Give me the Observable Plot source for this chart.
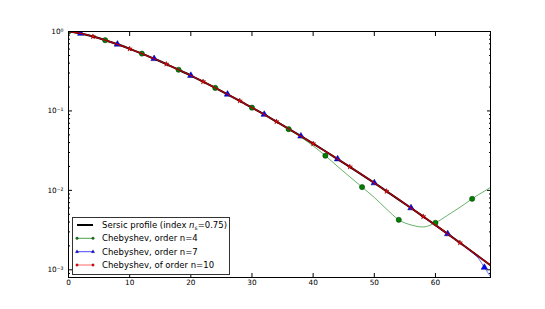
<!DOCTYPE html>
<html>
<head>
<meta charset="utf-8">
<script src="https://cdn.jsdelivr.net/npm/d3@7"></script>
<script src="https://cdn.jsdelivr.net/npm/@observablehq/plot@0.6"></script>
<style>
  html, body { margin: 0; padding: 0; background: white; }
  #chart { width: 545px; height: 309px; }
</style>
</head>
<body>
<div id="chart"></div>
<script>
// ---- data ----
const xs = [0,2,4,6,8,10,12,14,16,18,20,22,24,26,28,30,32,34,36,38,40,42,44,46,48,50,52,54,56,58,60,62,64,66,67,68,69];
const sersic = [1,0.944,0.864,0.777,0.690,0.605,0.527,0.454,0.389,0.330,0.279,0.234,0.195,0.162,0.134,0.110,0.0902,0.0734,0.0596,0.0481,0.0387,0.0311,0.0248,0.0198,0.0157,0.0124,0.00975,0.00766,0.00600,0.00468,0.00365,0.00283,0.00219,0.00169,0.00148,0.00130,0.00114];
const cheb4 = [1,0.944,0.864,0.777,0.690,0.605,0.527,0.454,0.389,0.330,0.279,0.234,0.195,0.162,0.134,0.110,0.0902,0.0734,0.0590,0.0468,0.0363,0.0273,0.0200,0.0148,0.0110,0.00813,0.00582,0.00426,0.00367,0.00346,0.00391,0.00486,0.00612,0.00783,0.00880,0.00978,0.0109];
const cheb7 = [1,0.944,0.864,0.777,0.690,0.605,0.527,0.454,0.389,0.330,0.279,0.234,0.195,0.162,0.134,0.110,0.0902,0.0734,0.0596,0.0481,0.0387,0.0311,0.0248,0.0198,0.0157,0.0124,0.00975,0.00766,0.00600,0.00470,0.00360,0.00283,0.00218,0.00166,0.00140,0.00107,0.00082];
const cheb10 = [1,0.944,0.864,0.777,0.690,0.605,0.527,0.454,0.389,0.330,0.279,0.234,0.195,0.162,0.134,0.110,0.0902,0.0734,0.0596,0.0481,0.0387,0.0311,0.0248,0.0198,0.0157,0.0124,0.00975,0.00766,0.00600,0.00468,0.00365,0.00283,0.00219,0.00169,0.00148,0.00130,0.00114];

const markX4 = [0,6,12,18,24,30,36,42,48,54,60,66];
const markX7 = [2,8,14,20,26,32,38,44,50,56,62,68];
const markX10 = [4,10,16,22,28,34,40,46,52,58,64];

const xTicks = [0,10,20,30,40,50,60];
const yMajor = [0.001,0.01,0.1,1];
const yLabels = ["10⁻³","10⁻²","10⁻¹","10⁰"];
const yMinor = [0.0009,0.002,0.003,0.004,0.005,0.006,0.007,0.008,0.009,0.02,0.03,0.04,0.05,0.06,0.07,0.08,0.09,0.2,0.3,0.4,0.5,0.6,0.7,0.8,0.9];

const legendLabels = ["Sersic profile (index ", "Chebyshev, order n=4", "Chebyshev, order n=7", "Chebyshev, of order n=10"];
const colors = ["#000000", "#008000", "#0000ff", "#ff0000"];

// ---- tables ----
const table = (ys) => xs.map((x, i) => ({x, y: ys[i]}));
const tS = table(sersic), t4 = table(cheb4), t7 = table(cheb7), t10 = table(cheb10);
const pick = (t, mx) => t.filter(d => mx.includes(d.x));

const chart = Plot.plot({
  width: 545,
  height: 309,
  marginLeft: 68,
  marginRight: 55,
  marginTop: 31,
  marginBottom: 32,
  x: {domain: [0, 69]},
  y: {type: "log", domain: [0.0008, 1]},
  style: {fontFamily: "DejaVu Sans", fontSize: "7.3px", background: "white", color: "black"},
  marks: [
    Plot.line(tS, {x: "x", y: "y", stroke: colors[0], strokeWidth: 2, curve: "monotone-x", clip: true}),
    Plot.line(t4, {x: "x", y: "y", stroke: colors[1], strokeWidth: 0.8, strokeOpacity: 0.75, curve: "monotone-x", clip: true}),
    Plot.dot(pick(t4, markX4), {x: "x", y: "y", r: 2.6, fill: colors[1], stroke: "#003000", strokeWidth: 0.5, clip: true}),
    Plot.line(t7, {x: "x", y: "y", stroke: colors[2], strokeWidth: 0.8, strokeOpacity: 0.7, curve: "monotone-x", clip: true}),
    Plot.dot(pick(t7, markX7), {x: "x", y: "y", r: 2.4, symbol: "triangle", fill: colors[2], stroke: "#000060", strokeWidth: 0.5, clip: true}),
    Plot.line(t10, {x: "x", y: "y", stroke: "#b80000", strokeWidth: 1.3, curve: "monotone-x", clip: true}),
    Plot.dot(pick(t10, markX10), {x: "x", y: "y", r: 1.6, symbol: "star", fill: colors[3], stroke: "#600000", strokeWidth: 0.5, clip: true}),
    Plot.frame({stroke: "black", strokeWidth: 1}),
    Plot.axisX({anchor: "bottom", ticks: xTicks, tickSize: -4, tickPadding: 6, label: null, tickFormat: d => String(d)}),
    Plot.axisX({anchor: "top", ticks: xTicks, tickSize: -4, fill: "none", label: null}),
    Plot.axisY({anchor: "left", ticks: yMajor, tickSize: -4, tickPadding: 9, label: null, tickFormat: d => yLabels[yMajor.indexOf(d)]}),
    Plot.axisY({anchor: "right", ticks: yMajor, tickSize: -4, fill: "none", label: null}),
    Plot.axisY({anchor: "left", ticks: yMinor, tickSize: -2, fill: "none", label: null}),
    Plot.axisY({anchor: "right", ticks: yMinor, tickSize: -2, fill: "none", label: null})
  ]
});

document.getElementById("chart").appendChild(chart);

// ---- in-plot legend (lower left) ----
const svg = d3.select(chart);
const lg = svg.append("g").attr("font-family", "DejaVu Sans").attr("font-size", "8.5px").attr("text-anchor", "start");
lg.append("rect").attr("x", 72.5).attr("y", 217.5).attr("width", 157).attr("height", 57)
  .attr("fill", "white").attr("stroke", "#333").attr("stroke-width", 1);
const rowY = [225, 238.3, 251.7, 265];
const sym = [null, d3.symbolCircle, d3.symbolTriangle, d3.symbolCircle];
legendLabels.forEach((lab, i) => {
  const y = rowY[i];
  lg.append("line").attr("x1", 77).attr("x2", 93).attr("y1", y).attr("y2", y)
    .attr("stroke", i === 3 ? "#ff3030" : colors[i]).attr("stroke-width", i === 0 ? 2 : 0.9).attr("stroke-opacity", i === 0 ? 1 : 0.8);
  if (sym[i]) {
    [77, 93].forEach(mx => {
      lg.append("path").attr("d", d3.symbol(sym[i], 5)()).attr("transform", `translate(${mx},${y})`)
        .attr("fill", colors[i]).attr("stroke", "#222").attr("stroke-width", 0.3);
    });
  }
  const t = lg.append("text").attr("x", 102).attr("y", y + 3).attr("fill", "black").attr("text-anchor", "start");
  t.append("tspan").text(lab);
  if (i === 0) {
    t.append("tspan").attr("font-style", "italic").text("n");
    t.append("tspan").attr("font-size", "6px").attr("dy", 2).text("s");
    t.append("tspan").attr("dy", -2).text("=0.75)");
  }
});
</script>
</body>
</html>
